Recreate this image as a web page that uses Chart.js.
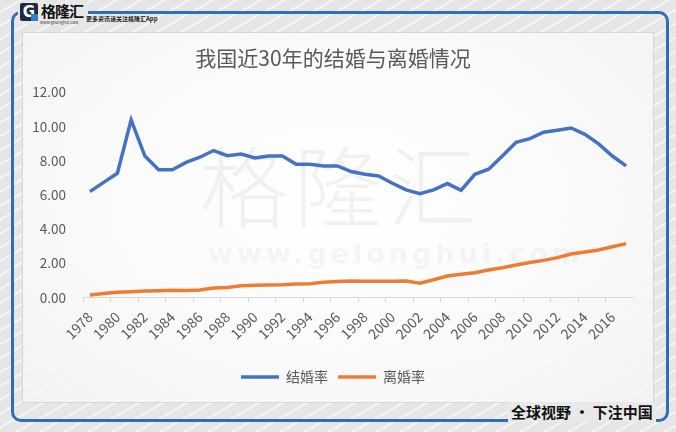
<!DOCTYPE html>
<html>
<head>
<meta charset="utf-8">
<script src="https://cdn.jsdelivr.net/npm/chart.js@4"></script>
<style>
  html, body { margin: 0; padding: 0; }
  body {
    width: 676px; height: 432px; position: relative; overflow: hidden;
    font-family: "Noto Sans CJK SC", "Noto Sans", sans-serif;
    background-color: #e6e6e6;
    background-image: repeating-linear-gradient(150deg, rgba(255,255,255,0) 0px, rgba(255,255,255,0) 9px, rgba(255,255,255,0.8) 10px, rgba(255,255,255,0) 12px);
  }
  .frame {
    position: absolute; left: 11px; top: 11px; width: 652px; height: 405px;
    border: 3px solid #2f6db5; border-radius: 10px;
  }
  .panel {
    position: absolute; left: 22px; top: 32px; width: 630px; height: 369px;
    border: 1px solid #d6d6d6;
    background: radial-gradient(ellipse at 50% 45%, #ffffff 0%, #fbfbfb 45%, rgba(245,245,245,0.85) 100%);
  }
  .logo {
    position: absolute; left: 18px; top: 2px; width: 70px; height: 22px;
    background: #e8e8e8;
  }
  .logo .g {
    position: absolute; left: 2px; top: 1px; width: 18px; height: 18px;
    background: #1f2a44; border-radius: 2px; color: #fff; font-weight: bold;
    font-size: 15px; line-height: 18px; text-align: center; font-family: "DejaVu Sans", sans-serif;
  }
  .logo .g:after {
    content: ""; position: absolute; right: 0; bottom: 0; width: 7px; height: 7px; background: #2f7fd0;
  }
  .logo .name {
    position: absolute; left: 23px; top: -2px; font-size: 15px; font-weight: bold; color: #111; letter-spacing: -1px;
  }
  .logo .url {
    position: absolute; left: 22px; top: 17px; font-size: 4px; color: #333; white-space: nowrap;
  }
  .slogan-small {
    position: absolute; left: 86px; top: 14px; font-size: 6px; color: #222; white-space: nowrap; font-weight: bold;
  }
  .motto {
    position: absolute; left: 508px; top: 402px; padding: 0 3px;
    background: #e9e9e9; font-size: 15px; font-weight: bold; color: #111; white-space: nowrap; line-height: 20px;
  }
  .wm {
    position: absolute; left: 200px; top: 118px; font-size: 88px; color: rgba(0,0,0,0.05);
    letter-spacing: 6px; font-weight: 300; white-space: nowrap;
  }
  .wm-url {
    position: absolute; left: 208px; top: 238px; font-size: 27px; font-weight: bold; color: rgba(0,0,0,0.05);
    letter-spacing: 4px; white-space: nowrap; font-family: "DejaVu Sans", sans-serif;
  }
  #wrap { position: absolute; left: 22px; top: 32px; width: 631px; height: 370px; }
</style>
</head>
<body>
<div class="frame"></div>
<div class="panel"></div>
<div class="logo"><div class="g">G</div><div class="name">格隆汇</div><div class="url">www.gelonghui.com</div></div>
<div class="slogan-small">更多资讯请关注格隆汇App</div>
<div class="wm">格隆汇</div>
<div class="wm-url">www.gelonghui.com</div>
<div class="motto">全球视野 · 下注中国</div>
<div id="wrap"><canvas id="marriageChart"></canvas></div>
<script>
// 我国近30年的结婚与离婚情况 (‰)
const years = ["1978","1979","1980","1981","1982","1983","1984","1985","1986","1987",
  "1988","1989","1990","1991","1992","1993","1994","1995","1996","1997",
  "1998","1999","2000","2001","2002","2003","2004","2005","2006","2007",
  "2008","2009","2010","2011","2012","2013","2014","2015","2016","2017"];
const marriageRate = [6.19,6.73,7.26,10.38,8.27,7.47,7.47,7.9,8.2,8.59,
  8.29,8.39,8.16,8.27,8.27,7.79,7.79,7.69,7.69,7.36,
  7.2,7.1,6.68,6.29,6.07,6.29,6.66,6.27,7.2,7.5,
  8.27,9.07,9.29,9.66,9.78,9.91,9.54,8.98,8.27,7.69];
const divorceRate = [0.15,0.24,0.3,0.34,0.38,0.4,0.42,0.41,0.44,0.56,
  0.58,0.69,0.71,0.73,0.75,0.79,0.81,0.89,0.93,0.96,
  0.95,0.95,0.95,0.96,0.84,1.04,1.26,1.36,1.45,1.61,
  1.74,1.9,2.04,2.17,2.33,2.54,2.66,2.78,2.97,3.15];
const yTicks = [0, 2, 4, 6, 8, 10, 12];

const textColor = "#595959";
const fontFamily = '"Noto Sans CJK SC", "Noto Sans", sans-serif';

document.addEventListener("DOMContentLoaded", function () {
  const canvas = document.getElementById("marriageChart");
  const ctx = canvas.getContext("2d");

  new Chart(ctx, {
    type: "line",
    data: {
      labels: years,
      datasets: [
        {
          label: "结婚率",
          data: marriageRate,
          borderColor: "#4472c4",
          backgroundColor: "#4472c4",
          borderWidth: 3.5,
          pointRadius: 0,
          tension: 0,
        },
        {
          label: "离婚率",
          data: divorceRate,
          borderColor: "#ed7d31",
          backgroundColor: "#ed7d31",
          borderWidth: 3.5,
          pointRadius: 0,
          tension: 0,
        },
      ],
    },
    options: {
      responsive: true,
      maintainAspectRatio: false,
      animation: false,
      layout: { padding: { left: 11, right: 20, top: 0, bottom: 8 } },
      plugins: {
        title: {
          display: true,
          text: "我国近30年的结婚与离婚情况",
          color: textColor,
          font: { family: fontFamily, size: 21, weight: "normal" },
          padding: { top: 13, bottom: 22 },
        },
        legend: {
          position: "bottom",
          labels: {
            usePointStyle: true,
            pointStyle: "line",
            pointStyleWidth: 38,
            color: textColor,
            font: { family: fontFamily, size: 14 },
            padding: 10,
          },
        },
        tooltip: { enabled: false },
      },
      scales: {
        x: {
          offset: true,
          afterFit: function (scale) { scale.height = 62.5; },
          grid: {
            offset: true,
            drawOnChartArea: false,
            drawTicks: true,
            tickLength: 5,
            color: function (c) { return c.index % 2 === 0 ? "#d9d9d9" : "rgba(0,0,0,0)"; },
          },
          border: { color: "#d9d9d9", width: 1 },
          ticks: {
            autoSkip: false,
            maxRotation: 45,
            minRotation: 45,
            color: textColor,
            font: { family: fontFamily, size: 14 },
            padding: 6,
            callback: function (v, i) { return i % 2 === 0 ? years[i] : ""; },
          },
        },
        y: {
          min: yTicks[0],
          max: yTicks[yTicks.length - 1],
          afterFit: function (scale) { scale.width = 50; },
          grid: { display: false },
          border: { display: false },
          ticks: {
            stepSize: 2,
            padding: 9,
            color: textColor,
            font: { family: fontFamily, size: 13.5 },
            callback: function (v) { return v.toFixed(2); },
          },
        },
      },
    },
  });
});
</script>
</body>
</html>
